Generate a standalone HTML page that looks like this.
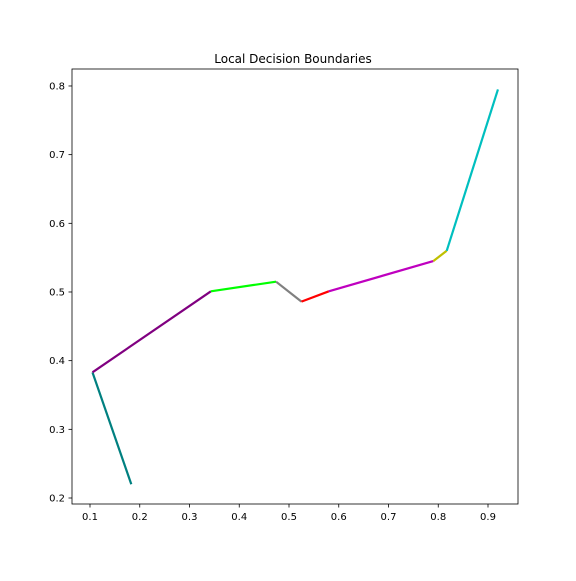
<!DOCTYPE html>
<html><head><meta charset="utf-8"><style>
html,body{margin:0;padding:0;background:#fff;}
svg text{font-family:"DejaVu Sans","Liberation Sans",sans-serif;font-size:10px;fill:#000;}
</style></head><body>
<svg id="chart" width="576" height="576" xmlns="http://www.w3.org/2000/svg">
<rect width="576" height="576" fill="#fff"/>
<text x="293" y="63" text-anchor="middle" style="font-size:12px">Local Decision Boundaries</text>
<g id="marks"></g>
<g id="axes"></g>
<rect x="72" y="69" width="446" height="435" fill="none" stroke="#000" stroke-width="0.8"/>
</svg>
<script>
const pointsX = [0.183, 0.105, 0.343, 0.474, 0.525, 0.58, 0.79, 0.817, 0.92];
const pointsY = [0.22, 0.383, 0.501, 0.515, 0.486, 0.501, 0.545, 0.56, 0.795];
const segmentColors = ['#008080','#800080','#00ff00','#808080','#ff0000','#bf00bf','#bfbf00','#00bfbf'];
const xTicks = [0.1,0.2,0.3,0.4,0.5,0.6,0.7,0.8,0.9];
const yTicks = [0.2,0.3,0.4,0.5,0.6,0.7,0.8];

const NS='http://www.w3.org/2000/svg';
function sx(v){return 90+(v-0.1)*497.5;}
function sy(v){return 498-(v-0.2)*686.7;}
const marks=document.getElementById('marks');
for(let i=0;i<pointsX.length-1;i++){
  const l=document.createElementNS(NS,'line');
  l.setAttribute('x1',sx(pointsX[i]));l.setAttribute('y1',sy(pointsY[i]));
  l.setAttribute('x2',sx(pointsX[i+1]));l.setAttribute('y2',sy(pointsY[i+1]));
  l.setAttribute('stroke',segmentColors[i]);l.setAttribute('stroke-width','2.2');
  
  
  marks.appendChild(l);
}
const axes=document.getElementById('axes');
xTicks.forEach(t=>{
  const x=sx(t);
  const l=document.createElementNS(NS,'line');
  l.setAttribute('x1',x);l.setAttribute('x2',x);l.setAttribute('y1',504);l.setAttribute('y2',507.5);
  l.setAttribute('stroke','#000');l.setAttribute('stroke-width','0.8');
  
  
  axes.appendChild(l);
  const tx=document.createElementNS(NS,'text');
  tx.setAttribute('x',x);tx.setAttribute('y',520);tx.setAttribute('text-anchor','middle');
  tx.textContent=t.toFixed(1);
  
  
  axes.appendChild(tx);
});
yTicks.forEach(t=>{
  const y=sy(t);
  const l=document.createElementNS(NS,'line');
  l.setAttribute('x1',68.5);l.setAttribute('x2',72);l.setAttribute('y1',y);l.setAttribute('y2',y);
  l.setAttribute('stroke','#000');l.setAttribute('stroke-width','0.8');
  
  
  axes.appendChild(l);
  const tx=document.createElementNS(NS,'text');
  tx.setAttribute('x',65);tx.setAttribute('y',y+3.5);tx.setAttribute('text-anchor','end');
  tx.textContent=t.toFixed(1);
  
  
  axes.appendChild(tx);
});
</script>
</body></html>
